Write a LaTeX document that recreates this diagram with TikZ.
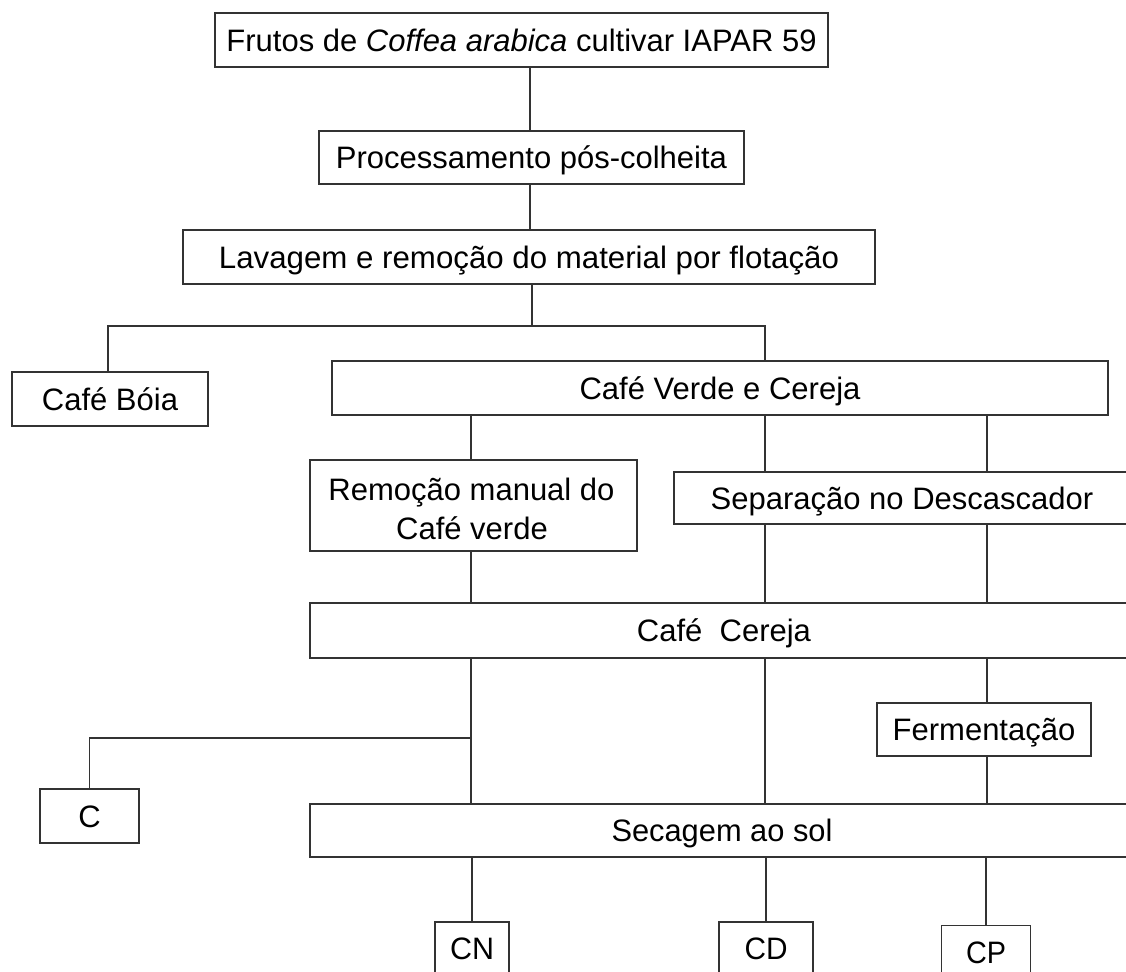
\documentclass[tikz,border=0pt]{standalone}
\usepackage{fontspec}
\setmainfont{Liberation Sans}
\usepackage{graphicx}
\newcommand\fw[2]{\resizebox{#1pt}{\height}{#2}}
\begin{document}
\begin{tikzpicture}[x=1pt,y=-1pt,
  bx/.style={draw=black!80, line width=1.3pt, inner sep=0pt, text height=22.2pt, text depth=0pt, anchor=center,
    font=\fontsize{31}{40}\selectfont},
  txt/.style={inner sep=0pt, text height=22.2pt, text depth=0pt, anchor=center, font=\fontsize{31}{40}\selectfont},
  ln/.style={draw=black!80, line width=1.3pt}]
\useasboundingbox (0,0) rectangle (1126,971);
\fill[white] (0,0) rectangle (1126,971);
% boxes
\node[bx, minimum width=613pt, minimum height=54pt] (frutos) at (521.5,40) {\fw{590}{Frutos de \textit{Coffea arabica} cultivar IAPAR 59}};
\node[bx, minimum width=425pt, minimum height=53pt] (proc) at (531.5,157.5) {\fw{391}{Processamento pós-colheita}};
\node[bx, minimum width=692pt, minimum height=54pt] (lav) at (529,257) {\fw{620}{Lavagem e remoção do material por flotação}};
\node[bx, minimum width=196pt, minimum height=54pt] (boia) at (110,399) {Café Bóia};
\node[bx, minimum width=776pt, minimum height=54pt] (verde) at (720,388) {Café Verde e Cereja};
\node[bx, minimum width=327pt, minimum height=91pt] (rem) at (473.5,505.5) {};
\node[txt] (rem1) at (471.5,489) {Remoção manual do};
\node[txt] (rem2) at (472,528.5) {Café verde};
\node[bx, minimum width=456pt, minimum height=52pt] (sep) at (902,498) {Separação no Descascador};
\node[bx, minimum width=828pt, minimum height=55pt] (cer) at (724,630.5) {Café\ \ Cereja};
\node[bx, minimum width=214pt, minimum height=53pt] (ferm) at (984,729.5) {Fermentação};
\node[bx, minimum width=99pt, minimum height=54pt] (c) at (89.5,816) {C};
\node[bx, minimum width=824pt, minimum height=53pt] (sec) at (722,830.5) {\fw{221}{Secagem ao sol}};
\node[bx, minimum width=74pt, minimum height=53pt] (cn) at (472,948.5) {\fw{44}{CN}};
\node[bx, minimum width=94pt, minimum height=53pt] (cd) at (766,948.5) {\fw{43}{CD}};
\node[bx, minimum width=89pt, minimum height=53pt] (cp) at (986,952) {\fw{40}{CP}};
% junction coordinates
\coordinate (xa) at (530,0);
\coordinate (split) at (532,326);
\coordinate (jl) at (108,326);
\coordinate (jr) at (765,326);
\coordinate (colL) at (471,0);
\coordinate (colM) at (765,0);
\coordinate (colR) at (987,0);
\coordinate (jc) at (471,738);
% connectors
\draw[ln] (frutos.south -| xa) -- (proc.north -| xa);
\draw[ln] (proc.south -| xa) -- (lav.north -| xa);
\draw[ln] (lav.south -| split) -- (split);
\draw[ln] (boia.north -| jl) -- (jl) -- (jr) -- (verde.north -| jr);
\draw[ln] (verde.south -| colL) -- (rem.north -| colL);
\draw[ln] (verde.south -| colM) -- (sep.north -| colM);
\draw[ln] (verde.south -| colR) -- (sep.north -| colR);
\draw[ln] (rem.south -| colL) -- (cer.north -| colL);
\draw[ln] (sep.south -| colM) -- (cer.north -| colM);
\draw[ln] (sep.south -| colR) -- (cer.north -| colR);
\draw[ln] (cer.south -| colL) -- (sec.north -| colL);
\draw[ln] (jc) -| (c.north);
\draw[ln] (cer.south -| colM) -- (sec.north -| colM);
\draw[ln] (cer.south -| colR) -- (ferm.north -| colR);
\draw[ln] (ferm.south -| colR) -- (sec.north -| colR);
\draw[ln] (sec.south -| cn.north) -- (cn.north);
\draw[ln] (sec.south -| cd.north) -- (cd.north);
\draw[ln] (sec.south -| cp.north) -- (cp.north);
\end{tikzpicture}
\end{document}
